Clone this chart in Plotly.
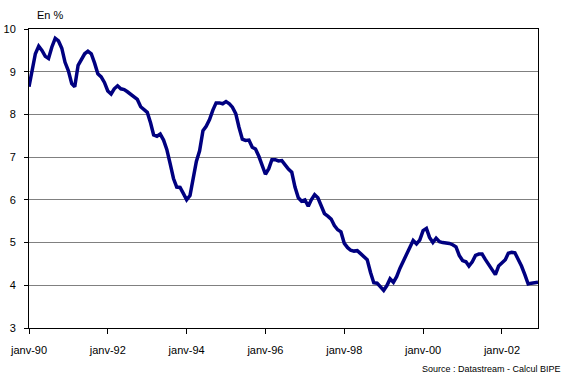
import pandas as pd
import plotly.graph_objects as go

# Monthly series, Jan 1990 .. Dec 2002 (en %)
START_MONTH = "1990-01-01"
VALUES = [
    8.65, 9.05, 9.42, 9.60, 9.50, 9.36, 9.31, 9.58, 9.78, 9.72, 9.55, 9.22,   # 1990
    9.02, 8.72, 8.65, 9.15, 9.30, 9.42, 9.48, 9.42, 9.20, 8.95, 8.88, 8.75,   # 1991
    8.55, 8.48, 8.60, 8.67, 8.60, 8.58, 8.53, 8.47, 8.42, 8.35, 8.18, 8.11,   # 1992
    8.05, 7.80, 7.52, 7.49, 7.54, 7.40, 7.18, 6.85, 6.50, 6.30, 6.29, 6.15,   # 1993
    6.00, 6.10, 6.50, 6.90, 7.15, 7.62, 7.72, 7.88, 8.10, 8.27, 8.27, 8.25,   # 1994
    8.30, 8.25, 8.17, 8.02, 7.70, 7.42, 7.39, 7.40, 7.23, 7.19, 7.02, 6.80,   # 1995
    6.60, 6.73, 6.94, 6.94, 6.91, 6.92, 6.82, 6.72, 6.65, 6.30, 6.05, 5.97,   # 1996
    6.00, 5.85, 6.00, 6.12, 6.05, 5.85, 5.68, 5.62, 5.55, 5.40, 5.30, 5.25,   # 1997
    4.98, 4.88, 4.82, 4.80, 4.81, 4.74, 4.68, 4.60, 4.30, 4.06, 4.05, 3.98,   # 1998
    3.88, 4.00, 4.15, 4.07, 4.20, 4.40, 4.55, 4.75, 4.88, 5.05, 4.97, 5.06,   # 1999
    5.28, 5.33, 5.12, 5.00, 5.10, 5.02, 5.00, 5.00, 4.98, 4.95, 4.90, 4.70,   # 2000
    4.58, 4.55, 4.45, 4.55, 4.70, 4.73, 4.73, 4.60, 4.48, 4.35, 4.25, 4.45,   # 2001
    4.53, 4.60, 4.75, 4.77, 4.76, 4.62, 4.45, 4.25, 4.03, 4.05, 4.07, 4.07,   # 2002
]
TICK_DATES = ["1990-01-01", "1992-01-01", "1994-01-01", "1996-01-01",
              "1998-01-01", "2000-01-01", "2002-01-01"]
TICK_LABELS = ["janv-90", "janv-92", "janv-94", "janv-96",
               "janv-98", "janv-00", "janv-02"]
Y_TICKS = [3, 4, 5, 6, 7, 8, 9, 10]

dates = pd.date_range(START_MONTH, periods=len(VALUES), freq="MS")

FONT = "Liberation Sans, Arial, sans-serif"

fig = go.Figure()
fig.add_trace(go.Scatter(
    x=dates, y=VALUES, mode="lines",
    line=dict(color="#000080", width=3.5),
    hoverinfo="x+y", showlegend=False,
))

fig.update_layout(
    width=565, height=384,
    margin=dict(l=29, r=27, t=29, b=56, autoexpand=False),
    paper_bgcolor="white", plot_bgcolor="white",
    font=dict(family=FONT, size=11, color="black"),
    xaxis=dict(
        range=[dates[0], dates[-1]],
        tickvals=TICK_DATES, ticktext=TICK_LABELS,
        showgrid=False, zeroline=False, automargin=False,
        showline=True, linecolor="black", linewidth=1, mirror=True,
        ticks="outside", ticklen=5, tickcolor="black",
        tickfont=dict(size=11, family=FONT, color="black"),
        ticklabelstandoff=7,
    ),
    yaxis=dict(
        range=[3, 10], tickvals=Y_TICKS,
        showgrid=True, gridcolor="#808080", gridwidth=1,
        zeroline=False, automargin=False,
        showline=True, linecolor="black", linewidth=1, mirror=True,
        ticks="outside", ticklen=4, tickcolor="black",
        tickfont=dict(size=11, family=FONT, color="black"),
        ticklabelstandoff=6,
    ),
    annotations=[
        dict(text="En %", xref="paper", yref="paper", x=0.012, y=1.0,
             xanchor="left", yanchor="bottom", yshift=6, showarrow=False,
             font=dict(size=11, family=FONT, color="black")),
        dict(text="Source : Datastream - Calcul BIPE", xref="paper", yref="paper",
             x=1.0, y=0, xanchor="right", yanchor="top", xshift=25, yshift=-34,
             showarrow=False,
             font=dict(size=9, family=FONT, color="black")),
    ],
)

fig.write_html("out.html", config={"displayModeBar": False},
               post_script="document.body.style.margin='0';")
